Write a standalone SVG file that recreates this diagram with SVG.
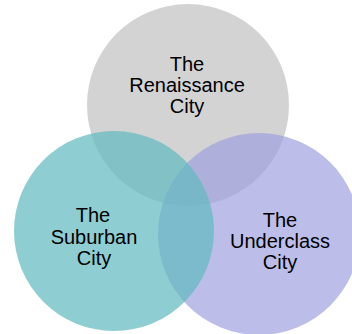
<svg xmlns="http://www.w3.org/2000/svg" width="352" height="334" viewBox="0 0 352 334">
  <style>
    .label { font-family: "Liberation Sans", Arial, sans-serif; font-size: 20px; fill: #000; text-anchor: middle; }
  </style>
  <rect width="352" height="334" fill="#ffffff"/>
  <!-- three overlapping sets, painted back to front -->
  <g id="renaissance">
    <circle cx="188" cy="105" r="101" fill="#d3d3d3"/>
    <text class="label" x="187" y="71">The</text>
    <text class="label" x="187" y="92">Renaissance</text>
    <text class="label" x="187" y="113">City</text>
  </g>
  <g id="underclass">
    <circle cx="259" cy="234" r="101" fill="rgb(158,158,223)" fill-opacity="0.68"/>
    <text class="label" x="280" y="227">The</text>
    <text class="label" x="280" y="248">Underclass</text>
    <text class="label" x="280" y="269">City</text>
  </g>
  <g id="suburban">
    <circle cx="114" cy="231" r="100" fill="rgb(100,187,192)" fill-opacity="0.73"/>
    <text class="label" x="93" y="222">The</text>
    <text class="label" x="94" y="244">Suburban</text>
    <text class="label" x="94" y="265">City</text>
  </g>
  <g id="connectors"/>
</svg>
